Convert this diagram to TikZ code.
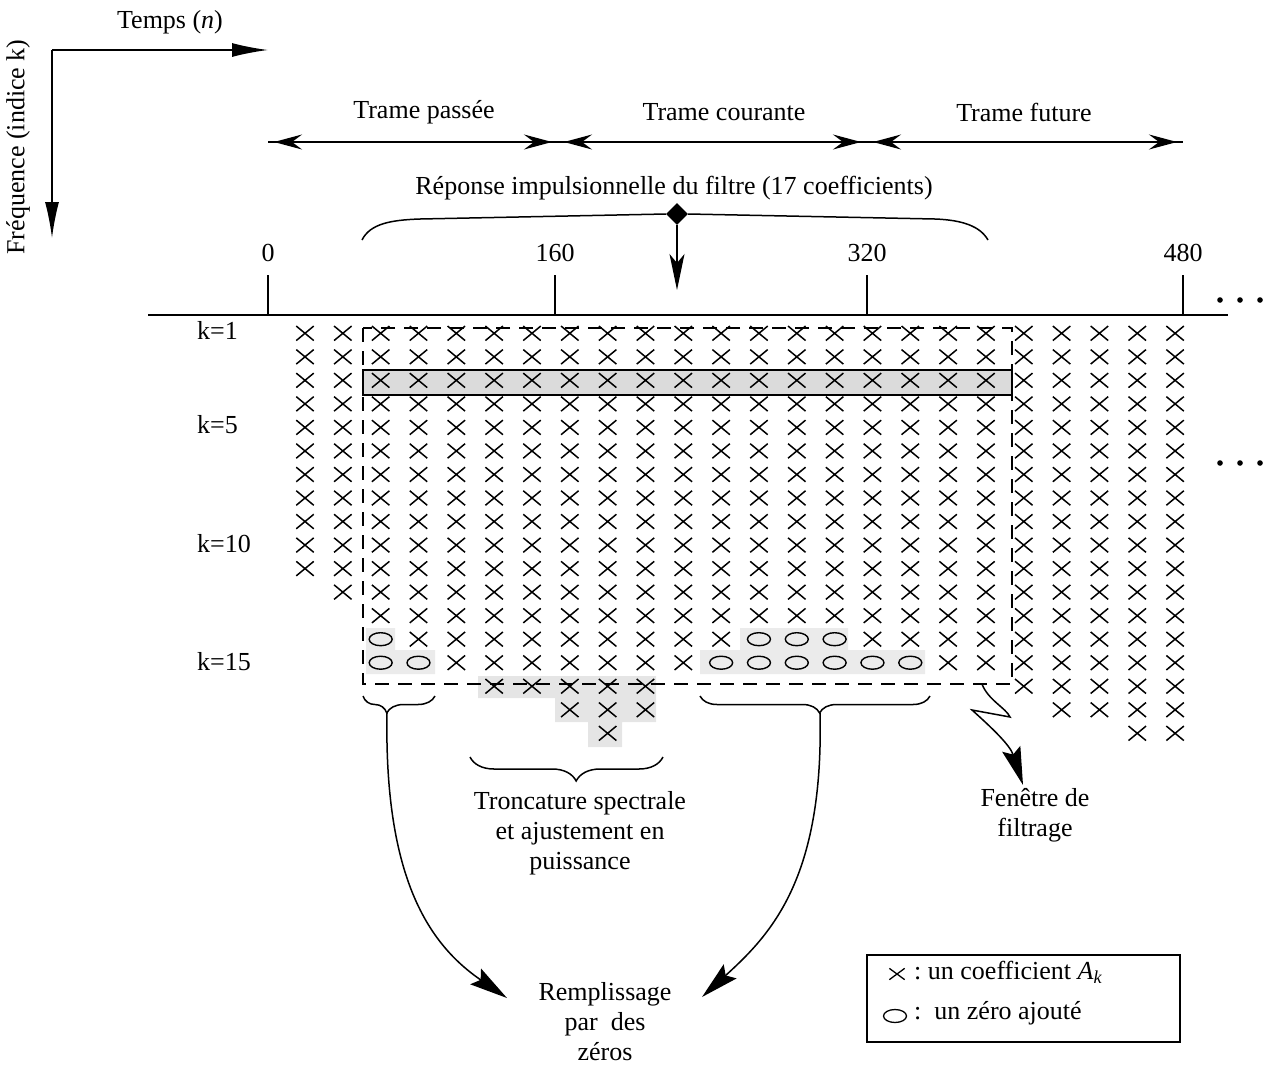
\documentclass[tikz,border=0pt]{standalone}
\usepackage{fontspec}
\setmainfont{Liberation Serif}
\usetikzlibrary{arrows.meta,shapes.geometric,shapes.misc,decorations.pathreplacing}
\begin{document}
\begin{tikzpicture}[x=1pt,y=-1pt,
  lbl/.style={font=\fontsize{26}{30}\selectfont, inner sep=0pt, align=center},
  coef/.style={cross out, draw, line width=1.5pt, minimum width=16pt, minimum height=13pt, inner sep=0pt},
  zero/.style={ellipse, draw, line width=1.4pt, minimum width=23pt, minimum height=13pt, inner sep=0pt},
  thin line/.style={line width=1.4pt},
  boxdash/.style={line width=2.4pt, dash pattern=on 14pt off 9pt},
  trame/.style={line width=1.3pt, {Stealth[length=28pt,width=15pt,inset=10pt]}-{Stealth[length=28pt,width=15pt,inset=10pt]}, shorten <=6pt, shorten >=6pt},
  bigtip/.style={-{Stealth[length=38pt,width=19pt,inset=6pt]}},
  shade/.style={fill=gray!16, draw=none},
  brc/.style={decorate, line width=1.5pt}
]
\useasboundingbox (0,0) rectangle (1269,1066);

% ---- top-left axes
\coordinate (o) at (52,50);
\coordinate (tn) at (268,50);
\coordinate (fk) at (52,238);
\draw[line width=1.5pt, -{Latex[length=36pt,width=14pt]}] (o) -- (tn);
\draw[line width=1.5pt, -{Latex[length=36pt,width=14pt]}] (o) -- (fk);
\node[lbl] (temps) at (170,22) {Temps (\textit{n})};
\node[lbl, rotate=90] (freq) at (18,147) {Fréquence (indice k)};

% ---- frames
\coordinate (t0) at (268,142);
\coordinate (t1) at (558,142);
\coordinate (t2) at (867,142);
\coordinate (t3) at (1183,142);
\draw[line width=1.3pt] (t0) -- (t3);
\draw[trame] (t0) -- (t1);
\draw[trame] (t1) -- (t2);
\draw[trame] (t2) -- (t3);
\node[lbl] (tp) at (424,112) {Trame passée};
\node[lbl] (tc) at (724,112) {Trame courante};
\node[lbl] (tf) at (1024,112) {Trame future};

% ---- impulse response brace
\node[lbl] (rep) at (674,188) {Réponse impulsionnelle du filtre (17 coefficients)};
\node[diamond, fill=black, minimum size=22pt, inner sep=0pt] (dia) at (677,214) {};
\draw[line width=1.5pt] (362,240) .. controls (370,224) and (390,220) .. (420,219) -- (dia.west);
\draw[line width=1.5pt] (dia.east) -- (935,219) .. controls (962,220) and (980,226) .. (988,240);
\coordinate (diaend) at (677,290);
\draw[line width=1.4pt, -{Stealth[length=36pt,width=15pt,inset=9pt]}] (dia.south) -- (diaend);

% ---- time axis
\coordinate (ax0) at (148,315);
\coordinate (ax1) at (1228,315);
\draw[line width=1.6pt] (ax0) -- (ax1);
\foreach \xx/\lab in {268/0, 555/160, 867/320, 1183/480}{
  \coordinate (tk\lab) at (\xx,315);
  \draw[thin line] (tk\lab) -- ++(0,-40);
  \node[lbl] (lab\lab) at (\xx,253) {\lab};
}
\foreach \xx in {1220,1240,1260}{
  \fill (\xx,300) circle (2.8pt);
  \fill (\xx,463) circle (2.8pt);
}

% ---- k labels
\node[lbl, anchor=west] (k1) at (197,330) {k=1};
\node[lbl, anchor=west] (k5) at (197,425) {k=5};
\node[lbl, anchor=west] (k10) at (197,544) {k=10};
\node[lbl, anchor=west] (k15) at (197,662) {k=15};

% ---- shaded areas
\fill[shade] (366,628) -- (395,628) -- (395,650) -- (435,650) -- (435,674) -- (366,674) -- cycle;
\fill[shade] (700,650) -- (740,650) -- (740,628) -- (848,628) -- (848,650) -- (925,650) -- (925,674) -- (700,674) -- cycle;
\fill[fill=gray!20] (478,676) -- (656,676) -- (656,722) -- (622,722) -- (622,747) -- (588,747) -- (588,722) -- (555,722) -- (555,698) -- (478,698) -- cycle;
\draw[line width=1.6pt, fill=gray!28] (363,370) rectangle (1012,395);

% ---- coefficient grid
\foreach \c/\m/\z in {0/11/99, 1/12/99, 2/15/14, 3/15/15, 4/15/99, 5/16/99, 6/16/99, 7/17/99, 8/18/99, 9/17/99, 10/15/99, 11/15/15, 12/15/14, 13/15/14, 14/15/14, 15/15/15, 16/15/15, 17/15/99, 18/15/99, 19/16/99, 20/17/99, 21/17/99, 22/18/99, 23/18/99}{
  \foreach \k in {1,...,\m}{
    \ifnum\k<\z
      \node[coef] (a-\c-\k) at ({305+37.83*\c},{333.3+23.53*(\k-1)}) {};
    \else
      \node[zero] (z-\c-\k) at ({305+37.83*\c},{333.3+23.53*(\k-1)}) {};
    \fi
  }
}

% ---- filtering window
\draw[boxdash] (363,328) rectangle (1012,684);

% ---- braces
\draw[brc, decoration={brace, mirror, amplitude=17pt, aspect=0.33}] (363,696) -- (435,696);
\coordinate (bl) at (387,713);
\draw[brc, decoration={brace, mirror, amplitude=17pt, aspect=0.52}] (700,696) -- (930,696);
\coordinate (br) at (820,713);
\draw[brc, decoration={brace, mirror, amplitude=24pt, aspect=0.55}] (470,757) -- (663,757);
\node[lbl] (tronc) at (580,833) {Troncature spectrale\\et ajustement en\\puissance};

% ---- zero filling
\node[lbl] (rempl) at (605,1022) {Remplissage\\par\ \ des\\zéros};
\coordinate (rl) at (507,998);
\coordinate (rr) at (702,997);
\draw[line width=1.5pt, bigtip] (bl) .. controls (384,880) and (430,945) .. (rl);
\draw[line width=1.5pt, bigtip] (br) .. controls (824,880) and (770,935) .. (rr);

% ---- window label
\coordinate (wc) at (982,684);
\coordinate (wt) at (1023,785);
\draw[line width=1.5pt, bigtip] (wc) .. controls (988,700) and (1006,708) .. (1010,717) -- (972,710) .. controls (992,728) and (1010,745) .. (wt);
\node[lbl] (fen) at (1035,815) {Fenêtre de\\filtrage};

% ---- legend
\node[draw, line width=1.4pt, minimum width=313pt, minimum height=87pt, inner sep=0pt] (leg) at (1023.5,998.5) {};
\node[coef, line width=1.3pt, minimum width=14pt, minimum height=10pt] (lx) at (897,974) {};
\node[lbl, anchor=west] (lt1) at (914,972) {:\ un coefficient \textit{A}\textsubscript{\textit{k}}};
\node[zero, line width=1.3pt] (lz) at (895,1016) {};
\node[lbl, anchor=west] (lt2) at (914,1013) {:\ \ un zéro ajouté};
\end{tikzpicture}
\end{document}
